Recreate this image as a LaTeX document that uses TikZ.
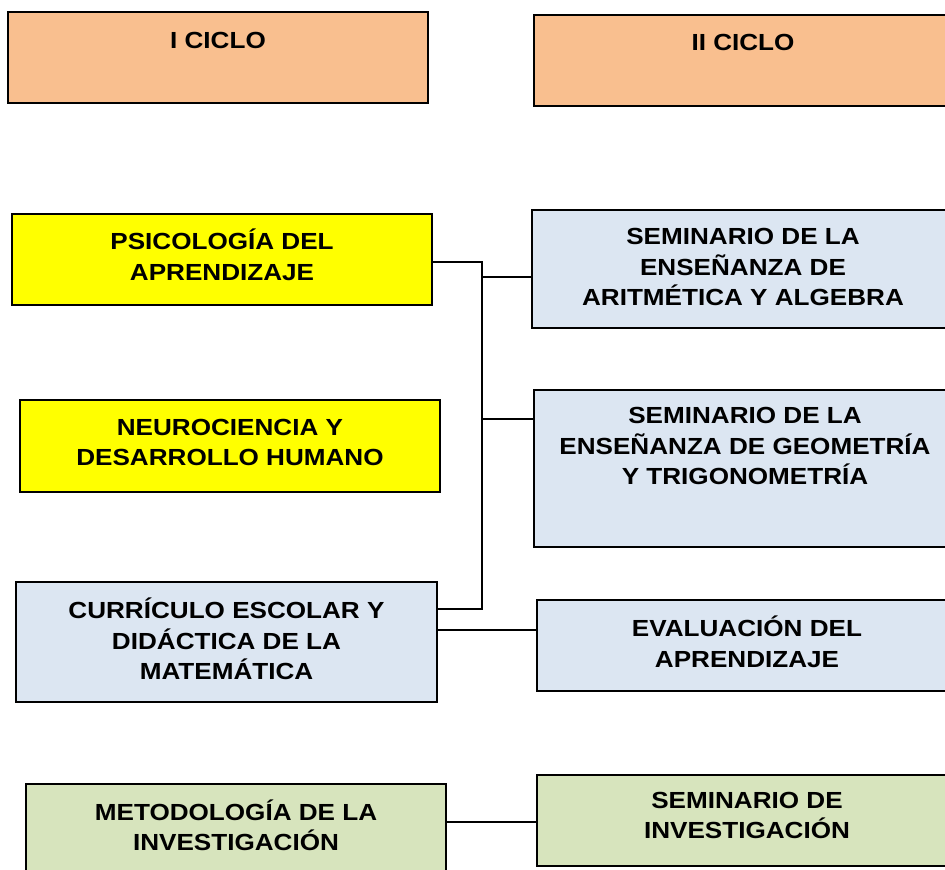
\documentclass[tikz,border=0pt]{standalone}
\usepackage{fontspec}
\setmainfont{Liberation Sans}[FakeStretch=1.12]
\definecolor{cicloorange}{HTML}{F9BF8F}
\definecolor{cursoyellow}{HTML}{FFFF00}
\definecolor{cursoblue}{HTML}{DCE6F2}
\definecolor{cursogreen}{HTML}{D7E4BD}
\tikzset{
  box/.style={draw, line width=1.4pt, inner sep=0pt},
  txt/.style={align=center, inner sep=0pt,
    font=\bfseries\fontsize{23.3}{30.5}\selectfont},
  link/.style={line width=1.6pt}
}

\begin{document}
\begin{tikzpicture}[x=1pt,y=-1pt]
\useasboundingbox (0,0) rectangle (945,870);
% Boxes
\foreach \n/\x/\y/\w/\h/\c in {
    ciclo1/218/57.5/420/91/cicloorange,
    ciclo2/743/60.5/418/91/cicloorange,
    psico/222/259.5/420/91/cursoyellow,
    neuro/230/446/420/92/cursoyellow,
    curri/226.5/642/421/120/cursoblue,
    metod/236/829/420/90/cursogreen,
    arit/742/269/420/118/cursoblue,
    geom/743/468.5/418/157/cursoblue,
    eval/744.5/645.5/415/91/cursoblue,
    seminv/744.5/820.5/415/91/cursogreen}
  \node[box, fill=\c, minimum width=\w pt, minimum height=\h pt] (\n) at (\x,\y) {};
% Texts
\node[txt] (ciclo1-t) at (218,40) {I CICLO};
\node[txt] (ciclo2-t) at (743,42) {II CICLO};
\node[txt] (psico-t) at (222,255) {PSICOLOGÍA DEL\\APRENDIZAJE};
\node[txt] (neuro-t) at (230,442.5) {NEUROCIENCIA Y\\DESARROLLO HUMANO};
\node[txt] (curri-t) at (226.5,639) {CURRÍCULO ESCOLAR Y\\DIDÁCTICA DE LA\\MATEMÁTICA};
\node[txt] (metod-t) at (236,825.5) {METODOLOGÍA DE LA\\INVESTIGACIÓN};
\node[txt] (arit-t) at (743,267) {SEMINARIO DE LA\\ENSEÑANZA DE\\ARITMÉTICA Y ALGEBRA};
\node[txt] (geom-t) at (745,446) {SEMINARIO DE LA\\ENSEÑANZA DE GEOMETRÍA\\Y TRIGONOMETRÍA};
\node[txt] (eval-t) at (747,642) {EVALUACIÓN DEL\\APRENDIZAJE};
\node[txt] (seminv-t) at (747,815.5) {SEMINARIO DE\\INVESTIGACIÓN};
% Connectors
\coordinate (bustop) at (482,262);
\coordinate (busbot) at (482,609);
\draw[link] (psico.east |- bustop) -- (bustop) -- (busbot) -- (curri.east |- busbot);
\coordinate (aritjoin) at (482,277);
\coordinate (geomjoin) at (482,419);
\draw[link] (aritjoin) -- (arit.west |- aritjoin);
\draw[link] (geomjoin) -- (geom.west |- geomjoin);
\coordinate (evaljoin) at (437,630);
\draw[link] (curri.east |- evaljoin) -- (eval.west |- evaljoin);
\coordinate (invjoin) at (446,822);
\draw[link] (metod.east |- invjoin) -- (seminv.west |- invjoin);
\end{tikzpicture}
\end{document}
